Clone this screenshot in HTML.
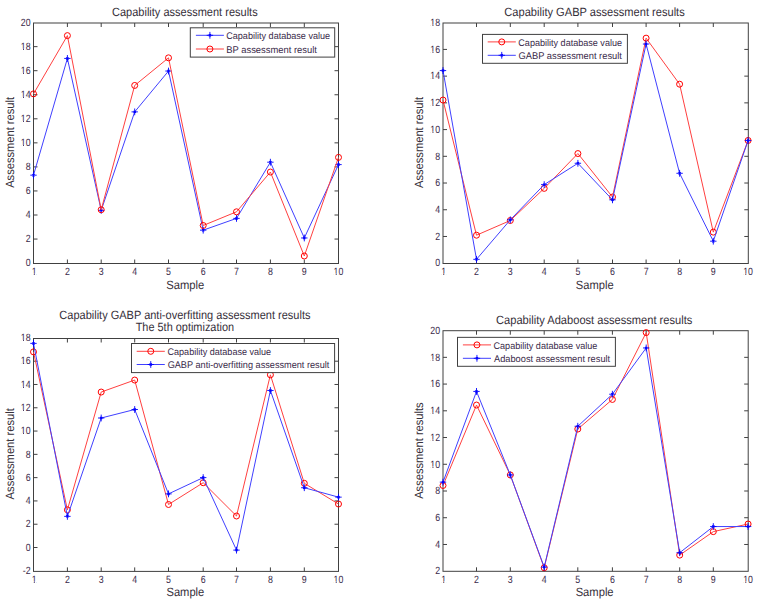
<!DOCTYPE html>
<html><head><meta charset="utf-8"><style>
html,body{margin:0;padding:0;background:#fff;}
svg{display:block;}
text{font-family:"Liberation Sans", sans-serif;}
.tk{font-size:10.5px;fill:#3a2a4a;}
.ti{font-size:12px;fill:#36303a;}
.lb{font-size:12px;fill:#36303a;}
.lg{font-size:9.7px;fill:#3a2a4a;}
</style></head><body>
<svg width="758" height="601" viewBox="0 0 758 601" text-rendering="geometricPrecision">
<rect width="758" height="601" fill="#fff"/>
<g>
<rect x="33.5" y="23.0" width="305.00" height="240.50" fill="#fff" stroke="#404040" stroke-width="1"/>
<path d="M67.40 263.5v-4M67.40 23.0v4M101.20 263.5v-4M101.20 23.0v4M134.70 263.5v-4M134.70 23.0v4M168.50 263.5v-4M168.50 23.0v4M203.20 263.5v-4M203.20 23.0v4M236.50 263.5v-4M236.50 23.0v4M270.40 263.5v-4M270.40 23.0v4M304.30 263.5v-4M304.30 23.0v4M33.5 239.05h4M338.5 239.05h-4M33.5 215.00h4M338.5 215.00h-4M33.5 190.95h4M338.5 190.95h-4M33.5 166.90h4M338.5 166.90h-4M33.5 142.85h4M338.5 142.85h-4M33.5 118.80h4M338.5 118.80h-4M33.5 94.75h4M338.5 94.75h-4M33.5 70.70h4M338.5 70.70h-4M33.5 46.65h4M338.5 46.65h-4" stroke="#404040" stroke-width="1" fill="none"/>
<polyline points="33.50,175.17 67.40,58.43 101.20,210.36 134.70,111.87 168.50,71.04 203.20,230.17 236.50,218.40 270.40,162.20 304.30,237.98 338.50,164.60" fill="none" stroke="#4040ff" stroke-width="1.0"/>
<path d="M30.30 175.17H36.70M33.50 171.77V178.57" stroke="#0000ff" stroke-width="0.9" fill="none"/><path d="M32.40 174.07L34.60 176.27M32.40 176.27L34.60 174.07" stroke="#0000ff" stroke-width="1.1" fill="none"/>
<path d="M64.20 58.43H70.60M67.40 55.03V61.83" stroke="#0000ff" stroke-width="0.9" fill="none"/><path d="M66.30 57.33L68.50 59.53M66.30 59.53L68.50 57.33" stroke="#0000ff" stroke-width="1.1" fill="none"/>
<path d="M98.00 210.36H104.40M101.20 206.96V213.76" stroke="#0000ff" stroke-width="0.9" fill="none"/><path d="M100.10 209.26L102.30 211.46M100.10 211.46L102.30 209.26" stroke="#0000ff" stroke-width="1.1" fill="none"/>
<path d="M131.50 111.87H137.90M134.70 108.47V115.27" stroke="#0000ff" stroke-width="0.9" fill="none"/><path d="M133.60 110.77L135.80 112.97M133.60 112.97L135.80 110.77" stroke="#0000ff" stroke-width="1.1" fill="none"/>
<path d="M165.30 71.04H171.70M168.50 67.64V74.44" stroke="#0000ff" stroke-width="0.9" fill="none"/><path d="M167.40 69.94L169.60 72.14M167.40 72.14L169.60 69.94" stroke="#0000ff" stroke-width="1.1" fill="none"/>
<path d="M200.00 230.17H206.40M203.20 226.77V233.57" stroke="#0000ff" stroke-width="0.9" fill="none"/><path d="M202.10 229.07L204.30 231.27M202.10 231.27L204.30 229.07" stroke="#0000ff" stroke-width="1.1" fill="none"/>
<path d="M233.30 218.40H239.70M236.50 215.00V221.80" stroke="#0000ff" stroke-width="0.9" fill="none"/><path d="M235.40 217.30L237.60 219.50M235.40 219.50L237.60 217.30" stroke="#0000ff" stroke-width="1.1" fill="none"/>
<path d="M267.20 162.20H273.60M270.40 158.80V165.60" stroke="#0000ff" stroke-width="0.9" fill="none"/><path d="M269.30 161.10L271.50 163.30M269.30 163.30L271.50 161.10" stroke="#0000ff" stroke-width="1.1" fill="none"/>
<path d="M301.10 237.98H307.50M304.30 234.58V241.38" stroke="#0000ff" stroke-width="0.9" fill="none"/><path d="M303.20 236.88L305.40 239.08M303.20 239.08L305.40 236.88" stroke="#0000ff" stroke-width="1.1" fill="none"/>
<path d="M335.30 164.60H341.70M338.50 161.20V168.00" stroke="#0000ff" stroke-width="0.9" fill="none"/><path d="M337.40 163.50L339.60 165.70M337.40 165.70L339.60 163.50" stroke="#0000ff" stroke-width="1.1" fill="none"/>
<polyline points="33.50,93.86 67.40,35.61 101.20,209.76 134.70,85.45 168.50,57.83 203.20,225.49 236.50,211.80 270.40,172.04 304.30,255.99 338.50,157.39" fill="none" stroke="#ff4040" stroke-width="1.0"/>
<circle cx="33.50" cy="93.86" r="3.0" fill="none" stroke="#ff0000" stroke-width="1"/>
<circle cx="67.40" cy="35.61" r="3.0" fill="none" stroke="#ff0000" stroke-width="1"/>
<circle cx="101.20" cy="209.76" r="3.0" fill="none" stroke="#ff0000" stroke-width="1"/>
<circle cx="134.70" cy="85.45" r="3.0" fill="none" stroke="#ff0000" stroke-width="1"/>
<circle cx="168.50" cy="57.83" r="3.0" fill="none" stroke="#ff0000" stroke-width="1"/>
<circle cx="203.20" cy="225.49" r="3.0" fill="none" stroke="#ff0000" stroke-width="1"/>
<circle cx="236.50" cy="211.80" r="3.0" fill="none" stroke="#ff0000" stroke-width="1"/>
<circle cx="270.40" cy="172.04" r="3.0" fill="none" stroke="#ff0000" stroke-width="1"/>
<circle cx="304.30" cy="255.99" r="3.0" fill="none" stroke="#ff0000" stroke-width="1"/>
<circle cx="338.50" cy="157.39" r="3.0" fill="none" stroke="#ff0000" stroke-width="1"/>
<g transform="translate(34.10,274.80) scale(0.838,1)"><text text-anchor="middle" class="tk">1</text><rect x="-2.63" y="-1.3" width="2.25" height="2.2" fill="#fff"/><rect x="0.75" y="-1.3" width="2.17" height="2.2" fill="#fff"/></g>
<g transform="translate(67.40,274.80) scale(0.838,1)"><text text-anchor="middle" class="tk">2</text></g>
<g transform="translate(101.20,274.80) scale(0.838,1)"><text text-anchor="middle" class="tk">3</text></g>
<g transform="translate(134.70,274.80) scale(0.838,1)"><text text-anchor="middle" class="tk">4</text></g>
<g transform="translate(168.50,274.80) scale(0.838,1)"><text text-anchor="middle" class="tk">5</text></g>
<g transform="translate(203.20,274.80) scale(0.838,1)"><text text-anchor="middle" class="tk">6</text></g>
<g transform="translate(236.50,274.80) scale(0.838,1)"><text text-anchor="middle" class="tk">7</text></g>
<g transform="translate(270.40,274.80) scale(0.838,1)"><text text-anchor="middle" class="tk">8</text></g>
<g transform="translate(304.30,274.80) scale(0.838,1)"><text text-anchor="middle" class="tk">9</text></g>
<g transform="translate(338.50,274.80) scale(0.838,1)"><text text-anchor="middle" class="tk">10</text><rect x="-5.55" y="-1.3" width="2.25" height="2.2" fill="#fff"/><rect x="-2.17" y="-1.3" width="2.17" height="2.2" fill="#fff"/></g>
<g transform="translate(30.65,266.35) scale(0.838,1)"><text text-anchor="end" class="tk">0</text></g>
<g transform="translate(30.65,242.30) scale(0.838,1)"><text text-anchor="end" class="tk">2</text></g>
<g transform="translate(30.65,218.25) scale(0.838,1)"><text text-anchor="end" class="tk">4</text></g>
<g transform="translate(30.65,194.20) scale(0.838,1)"><text text-anchor="end" class="tk">6</text></g>
<g transform="translate(30.65,170.15) scale(0.838,1)"><text text-anchor="end" class="tk">8</text></g>
<g transform="translate(30.65,146.10) scale(0.838,1)"><text text-anchor="end" class="tk">10</text><rect x="-11.39" y="-1.3" width="2.25" height="2.2" fill="#fff"/><rect x="-8.01" y="-1.3" width="2.17" height="2.2" fill="#fff"/></g>
<g transform="translate(30.65,122.05) scale(0.838,1)"><text text-anchor="end" class="tk">12</text><rect x="-11.39" y="-1.3" width="2.25" height="2.2" fill="#fff"/><rect x="-8.01" y="-1.3" width="2.17" height="2.2" fill="#fff"/></g>
<g transform="translate(30.65,98.00) scale(0.838,1)"><text text-anchor="end" class="tk">14</text><rect x="-11.39" y="-1.3" width="2.25" height="2.2" fill="#fff"/><rect x="-8.01" y="-1.3" width="2.17" height="2.2" fill="#fff"/></g>
<g transform="translate(30.65,73.95) scale(0.838,1)"><text text-anchor="end" class="tk">16</text><rect x="-11.39" y="-1.3" width="2.25" height="2.2" fill="#fff"/><rect x="-8.01" y="-1.3" width="2.17" height="2.2" fill="#fff"/></g>
<g transform="translate(30.65,49.90) scale(0.838,1)"><text text-anchor="end" class="tk">18</text><rect x="-11.39" y="-1.3" width="2.25" height="2.2" fill="#fff"/><rect x="-8.01" y="-1.3" width="2.17" height="2.2" fill="#fff"/></g>
<g transform="translate(30.65,25.85) scale(0.838,1)"><text text-anchor="end" class="tk">20</text></g>
<text transform="translate(112.04,15.80) scale(0.9173,1)" class="ti">Capability assessment results</text>
<text transform="translate(166.23,288.70) scale(0.9358,1)" class="lb">Sample</text>
<text transform="translate(13.80,187.80) rotate(-90) scale(0.9265,1)" class="lb">Assessment result</text>
<rect x="190.3" y="27.8" width="144.40" height="29.30" fill="#fff" stroke="#404040" stroke-width="1"/>
<line x1="195.9" y1="35.3" x2="223.9" y2="35.3" stroke="#4040ff" stroke-width="1.0"/>
<path d="M206.70 35.30H213.10M209.90 31.90V38.70" stroke="#0000ff" stroke-width="0.9" fill="none"/><path d="M208.80 34.20L211.00 36.40M208.80 36.40L211.00 34.20" stroke="#0000ff" stroke-width="1.1" fill="none"/>
<text transform="translate(226.23,39.20) scale(0.9364,1)" class="lg">Capability database value</text>
<line x1="195.9" y1="49.0" x2="223.9" y2="49.0" stroke="#ff4040" stroke-width="1.0"/>
<circle cx="209.90" cy="49.00" r="3.0" fill="none" stroke="#ff0000" stroke-width="1"/>
<text transform="translate(226.27,52.90) scale(0.9693,1)" class="lg">BP assessment result</text>
<rect x="443.0" y="23.0" width="305.30" height="240.50" fill="#fff" stroke="#404040" stroke-width="1"/>
<path d="M476.50 263.5v-4M476.50 23.0v4M510.30 263.5v-4M510.30 23.0v4M544.20 263.5v-4M544.20 23.0v4M577.90 263.5v-4M577.90 23.0v4M612.50 263.5v-4M612.50 23.0v4M646.10 263.5v-4M646.10 23.0v4M679.60 263.5v-4M679.60 23.0v4M713.30 263.5v-4M713.30 23.0v4M443.0 236.48h4M748.3 236.48h-4M443.0 209.76h4M748.3 209.76h-4M443.0 183.03h4M748.3 183.03h-4M443.0 156.31h4M748.3 156.31h-4M443.0 129.59h4M748.3 129.59h-4M443.0 102.87h4M748.3 102.87h-4M443.0 76.14h4M748.3 76.14h-4M443.0 49.42h4M748.3 49.42h-4" stroke="#404040" stroke-width="1" fill="none"/>
<polyline points="443.00,100.05 476.50,235.19 510.30,220.51 544.20,188.36 577.90,153.55 612.50,197.03 646.10,38.15 679.60,84.18 713.30,232.12 748.10,140.47" fill="none" stroke="#ff4040" stroke-width="1.0"/>
<circle cx="443.00" cy="100.05" r="3.0" fill="none" stroke="#ff0000" stroke-width="1"/>
<circle cx="476.50" cy="235.19" r="3.0" fill="none" stroke="#ff0000" stroke-width="1"/>
<circle cx="510.30" cy="220.51" r="3.0" fill="none" stroke="#ff0000" stroke-width="1"/>
<circle cx="544.20" cy="188.36" r="3.0" fill="none" stroke="#ff0000" stroke-width="1"/>
<circle cx="577.90" cy="153.55" r="3.0" fill="none" stroke="#ff0000" stroke-width="1"/>
<circle cx="612.50" cy="197.03" r="3.0" fill="none" stroke="#ff0000" stroke-width="1"/>
<circle cx="646.10" cy="38.15" r="3.0" fill="none" stroke="#ff0000" stroke-width="1"/>
<circle cx="679.60" cy="84.18" r="3.0" fill="none" stroke="#ff0000" stroke-width="1"/>
<circle cx="713.30" cy="232.12" r="3.0" fill="none" stroke="#ff0000" stroke-width="1"/>
<circle cx="748.10" cy="140.47" r="3.0" fill="none" stroke="#ff0000" stroke-width="1"/>
<polyline points="443.00,70.57 476.50,259.33 510.30,219.84 544.20,184.63 577.90,163.28 612.50,199.83 646.10,44.02 679.60,173.29 713.30,241.19 748.10,140.47" fill="none" stroke="#4040ff" stroke-width="1.0"/>
<path d="M439.80 70.57H446.20M443.00 67.17V73.97" stroke="#0000ff" stroke-width="0.9" fill="none"/><path d="M441.90 69.47L444.10 71.67M441.90 71.67L444.10 69.47" stroke="#0000ff" stroke-width="1.1" fill="none"/>
<path d="M473.30 259.33H479.70M476.50 255.93V262.73" stroke="#0000ff" stroke-width="0.9" fill="none"/><path d="M475.40 258.23L477.60 260.43M475.40 260.43L477.60 258.23" stroke="#0000ff" stroke-width="1.1" fill="none"/>
<path d="M507.10 219.84H513.50M510.30 216.44V223.25" stroke="#0000ff" stroke-width="0.9" fill="none"/><path d="M509.20 218.75L511.40 220.94M509.20 220.94L511.40 218.75" stroke="#0000ff" stroke-width="1.1" fill="none"/>
<path d="M541.00 184.63H547.40M544.20 181.23V188.03" stroke="#0000ff" stroke-width="0.9" fill="none"/><path d="M543.10 183.53L545.30 185.73M543.10 185.73L545.30 183.53" stroke="#0000ff" stroke-width="1.1" fill="none"/>
<path d="M574.70 163.28H581.10M577.90 159.88V166.68" stroke="#0000ff" stroke-width="0.9" fill="none"/><path d="M576.80 162.18L579.00 164.38M576.80 164.38L579.00 162.18" stroke="#0000ff" stroke-width="1.1" fill="none"/>
<path d="M609.30 199.83H615.70M612.50 196.43V203.23" stroke="#0000ff" stroke-width="0.9" fill="none"/><path d="M611.40 198.73L613.60 200.93M611.40 200.93L613.60 198.73" stroke="#0000ff" stroke-width="1.1" fill="none"/>
<path d="M642.90 44.02H649.30M646.10 40.62V47.42" stroke="#0000ff" stroke-width="0.9" fill="none"/><path d="M645.00 42.92L647.20 45.12M645.00 45.12L647.20 42.92" stroke="#0000ff" stroke-width="1.1" fill="none"/>
<path d="M676.40 173.29H682.80M679.60 169.89V176.69" stroke="#0000ff" stroke-width="0.9" fill="none"/><path d="M678.50 172.19L680.70 174.39M678.50 174.39L680.70 172.19" stroke="#0000ff" stroke-width="1.1" fill="none"/>
<path d="M710.10 241.19H716.50M713.30 237.79V244.59" stroke="#0000ff" stroke-width="0.9" fill="none"/><path d="M712.20 240.09L714.40 242.29M712.20 242.29L714.40 240.09" stroke="#0000ff" stroke-width="1.1" fill="none"/>
<path d="M744.90 140.47H751.30M748.10 137.07V143.87" stroke="#0000ff" stroke-width="0.9" fill="none"/><path d="M747.00 139.37L749.20 141.57M747.00 141.57L749.20 139.37" stroke="#0000ff" stroke-width="1.1" fill="none"/>
<g transform="translate(443.60,274.80) scale(0.838,1)"><text text-anchor="middle" class="tk">1</text><rect x="-2.63" y="-1.3" width="2.25" height="2.2" fill="#fff"/><rect x="0.75" y="-1.3" width="2.17" height="2.2" fill="#fff"/></g>
<g transform="translate(476.50,274.80) scale(0.838,1)"><text text-anchor="middle" class="tk">2</text></g>
<g transform="translate(510.30,274.80) scale(0.838,1)"><text text-anchor="middle" class="tk">3</text></g>
<g transform="translate(544.20,274.80) scale(0.838,1)"><text text-anchor="middle" class="tk">4</text></g>
<g transform="translate(577.90,274.80) scale(0.838,1)"><text text-anchor="middle" class="tk">5</text></g>
<g transform="translate(612.50,274.80) scale(0.838,1)"><text text-anchor="middle" class="tk">6</text></g>
<g transform="translate(646.10,274.80) scale(0.838,1)"><text text-anchor="middle" class="tk">7</text></g>
<g transform="translate(679.60,274.80) scale(0.838,1)"><text text-anchor="middle" class="tk">8</text></g>
<g transform="translate(713.30,274.80) scale(0.838,1)"><text text-anchor="middle" class="tk">9</text></g>
<g transform="translate(748.10,274.80) scale(0.838,1)"><text text-anchor="middle" class="tk">10</text><rect x="-5.55" y="-1.3" width="2.25" height="2.2" fill="#fff"/><rect x="-2.17" y="-1.3" width="2.17" height="2.2" fill="#fff"/></g>
<g transform="translate(440.15,266.45) scale(0.838,1)"><text text-anchor="end" class="tk">0</text></g>
<g transform="translate(440.15,239.73) scale(0.838,1)"><text text-anchor="end" class="tk">2</text></g>
<g transform="translate(440.15,213.01) scale(0.838,1)"><text text-anchor="end" class="tk">4</text></g>
<g transform="translate(440.15,186.28) scale(0.838,1)"><text text-anchor="end" class="tk">6</text></g>
<g transform="translate(440.15,159.56) scale(0.838,1)"><text text-anchor="end" class="tk">8</text></g>
<g transform="translate(440.15,132.84) scale(0.838,1)"><text text-anchor="end" class="tk">10</text><rect x="-11.39" y="-1.3" width="2.25" height="2.2" fill="#fff"/><rect x="-8.01" y="-1.3" width="2.17" height="2.2" fill="#fff"/></g>
<g transform="translate(440.15,106.12) scale(0.838,1)"><text text-anchor="end" class="tk">12</text><rect x="-11.39" y="-1.3" width="2.25" height="2.2" fill="#fff"/><rect x="-8.01" y="-1.3" width="2.17" height="2.2" fill="#fff"/></g>
<g transform="translate(440.15,79.39) scale(0.838,1)"><text text-anchor="end" class="tk">14</text><rect x="-11.39" y="-1.3" width="2.25" height="2.2" fill="#fff"/><rect x="-8.01" y="-1.3" width="2.17" height="2.2" fill="#fff"/></g>
<g transform="translate(440.15,52.67) scale(0.838,1)"><text text-anchor="end" class="tk">16</text><rect x="-11.39" y="-1.3" width="2.25" height="2.2" fill="#fff"/><rect x="-8.01" y="-1.3" width="2.17" height="2.2" fill="#fff"/></g>
<g transform="translate(440.15,25.95) scale(0.838,1)"><text text-anchor="end" class="tk">18</text><rect x="-11.39" y="-1.3" width="2.25" height="2.2" fill="#fff"/><rect x="-8.01" y="-1.3" width="2.17" height="2.2" fill="#fff"/></g>
<text transform="translate(504.34,15.80) scale(0.9241,1)" class="ti">Capability GABP assessment results</text>
<text transform="translate(575.84,288.70) scale(0.9283,1)" class="lb">Sample</text>
<text transform="translate(422.80,188.00) rotate(-90) scale(0.9286,1)" class="lb">Assessment result</text>
<rect x="482.5" y="34.4" width="144.90" height="28.90" fill="#fff" stroke="#404040" stroke-width="1"/>
<line x1="487.7" y1="41.9" x2="515.8" y2="41.9" stroke="#ff4040" stroke-width="1.0"/>
<circle cx="501.75" cy="41.90" r="3.0" fill="none" stroke="#ff0000" stroke-width="1"/>
<text transform="translate(518.33,45.80) scale(0.9345,1)" class="lg">Capability database value</text>
<line x1="487.7" y1="55.3" x2="515.8" y2="55.3" stroke="#4040ff" stroke-width="1.0"/>
<path d="M498.55 55.30H504.95M501.75 51.90V58.70" stroke="#0000ff" stroke-width="0.9" fill="none"/><path d="M500.65 54.20L502.85 56.40M500.65 56.40L502.85 54.20" stroke="#0000ff" stroke-width="1.1" fill="none"/>
<text transform="translate(518.52,59.20) scale(0.9617,1)" class="lg">GABP assessment result</text>
<rect x="33.5" y="338.5" width="305.00" height="232.90" fill="#fff" stroke="#404040" stroke-width="1"/>
<path d="M67.40 571.4v-4M67.40 338.5v4M101.20 571.4v-4M101.20 338.5v4M134.70 571.4v-4M134.70 338.5v4M168.50 571.4v-4M168.50 338.5v4M203.20 571.4v-4M203.20 338.5v4M236.50 571.4v-4M236.50 338.5v4M270.40 571.4v-4M270.40 338.5v4M304.30 571.4v-4M304.30 338.5v4M33.5 547.51h4M338.5 547.51h-4M33.5 524.22h4M338.5 524.22h-4M33.5 500.93h4M338.5 500.93h-4M33.5 477.64h4M338.5 477.64h-4M33.5 454.35h4M338.5 454.35h-4M33.5 431.06h4M338.5 431.06h-4M33.5 407.77h4M338.5 407.77h-4M33.5 384.48h4M338.5 384.48h-4M33.5 361.19h4M338.5 361.19h-4" stroke="#404040" stroke-width="1" fill="none"/>
<polyline points="33.50,351.89 67.40,509.84 101.20,392.04 134.70,380.05 168.50,504.49 203.20,482.72 236.50,516.01 270.40,374.82 304.30,483.30 338.50,504.02" fill="none" stroke="#ff4040" stroke-width="1.0"/>
<circle cx="33.50" cy="351.89" r="3.0" fill="none" stroke="#ff0000" stroke-width="1"/>
<circle cx="67.40" cy="509.84" r="3.0" fill="none" stroke="#ff0000" stroke-width="1"/>
<circle cx="101.20" cy="392.04" r="3.0" fill="none" stroke="#ff0000" stroke-width="1"/>
<circle cx="134.70" cy="380.05" r="3.0" fill="none" stroke="#ff0000" stroke-width="1"/>
<circle cx="168.50" cy="504.49" r="3.0" fill="none" stroke="#ff0000" stroke-width="1"/>
<circle cx="203.20" cy="482.72" r="3.0" fill="none" stroke="#ff0000" stroke-width="1"/>
<circle cx="236.50" cy="516.01" r="3.0" fill="none" stroke="#ff0000" stroke-width="1"/>
<circle cx="270.40" cy="374.82" r="3.0" fill="none" stroke="#ff0000" stroke-width="1"/>
<circle cx="304.30" cy="483.30" r="3.0" fill="none" stroke="#ff0000" stroke-width="1"/>
<circle cx="338.50" cy="504.02" r="3.0" fill="none" stroke="#ff0000" stroke-width="1"/>
<polyline points="33.50,343.39 67.40,516.36 101.20,418.00 134.70,409.50 168.50,493.89 203.20,477.60 236.50,550.12 270.40,390.53 304.30,487.72 338.50,497.15" fill="none" stroke="#4040ff" stroke-width="1.0"/>
<path d="M30.30 343.39H36.70M33.50 339.99V346.79" stroke="#0000ff" stroke-width="0.9" fill="none"/><path d="M32.40 342.29L34.60 344.49M32.40 344.49L34.60 342.29" stroke="#0000ff" stroke-width="1.1" fill="none"/>
<path d="M64.20 516.36H70.60M67.40 512.96V519.76" stroke="#0000ff" stroke-width="0.9" fill="none"/><path d="M66.30 515.26L68.50 517.46M66.30 517.46L68.50 515.26" stroke="#0000ff" stroke-width="1.1" fill="none"/>
<path d="M98.00 418.00H104.40M101.20 414.60V421.40" stroke="#0000ff" stroke-width="0.9" fill="none"/><path d="M100.10 416.90L102.30 419.10M100.10 419.10L102.30 416.90" stroke="#0000ff" stroke-width="1.1" fill="none"/>
<path d="M131.50 409.50H137.90M134.70 406.10V412.90" stroke="#0000ff" stroke-width="0.9" fill="none"/><path d="M133.60 408.40L135.80 410.60M133.60 410.60L135.80 408.40" stroke="#0000ff" stroke-width="1.1" fill="none"/>
<path d="M165.30 493.89H171.70M168.50 490.49V497.29" stroke="#0000ff" stroke-width="0.9" fill="none"/><path d="M167.40 492.79L169.60 494.99M167.40 494.99L169.60 492.79" stroke="#0000ff" stroke-width="1.1" fill="none"/>
<path d="M200.00 477.60H206.40M203.20 474.20V481.00" stroke="#0000ff" stroke-width="0.9" fill="none"/><path d="M202.10 476.50L204.30 478.70M202.10 478.70L204.30 476.50" stroke="#0000ff" stroke-width="1.1" fill="none"/>
<path d="M233.30 550.12H239.70M236.50 546.72V553.52" stroke="#0000ff" stroke-width="0.9" fill="none"/><path d="M235.40 549.02L237.60 551.22M235.40 551.22L237.60 549.02" stroke="#0000ff" stroke-width="1.1" fill="none"/>
<path d="M267.20 390.53H273.60M270.40 387.13V393.93" stroke="#0000ff" stroke-width="0.9" fill="none"/><path d="M269.30 389.43L271.50 391.63M269.30 391.63L271.50 389.43" stroke="#0000ff" stroke-width="1.1" fill="none"/>
<path d="M301.10 487.72H307.50M304.30 484.32V491.12" stroke="#0000ff" stroke-width="0.9" fill="none"/><path d="M303.20 486.62L305.40 488.82M303.20 488.82L305.40 486.62" stroke="#0000ff" stroke-width="1.1" fill="none"/>
<path d="M335.30 497.15H341.70M338.50 493.75V500.55" stroke="#0000ff" stroke-width="0.9" fill="none"/><path d="M337.40 496.05L339.60 498.25M337.40 498.25L339.60 496.05" stroke="#0000ff" stroke-width="1.1" fill="none"/>
<g transform="translate(34.10,582.70) scale(0.838,1)"><text text-anchor="middle" class="tk">1</text><rect x="-2.63" y="-1.3" width="2.25" height="2.2" fill="#fff"/><rect x="0.75" y="-1.3" width="2.17" height="2.2" fill="#fff"/></g>
<g transform="translate(67.40,582.70) scale(0.838,1)"><text text-anchor="middle" class="tk">2</text></g>
<g transform="translate(101.20,582.70) scale(0.838,1)"><text text-anchor="middle" class="tk">3</text></g>
<g transform="translate(134.70,582.70) scale(0.838,1)"><text text-anchor="middle" class="tk">4</text></g>
<g transform="translate(168.50,582.70) scale(0.838,1)"><text text-anchor="middle" class="tk">5</text></g>
<g transform="translate(203.20,582.70) scale(0.838,1)"><text text-anchor="middle" class="tk">6</text></g>
<g transform="translate(236.50,582.70) scale(0.838,1)"><text text-anchor="middle" class="tk">7</text></g>
<g transform="translate(270.40,582.70) scale(0.838,1)"><text text-anchor="middle" class="tk">8</text></g>
<g transform="translate(304.30,582.70) scale(0.838,1)"><text text-anchor="middle" class="tk">9</text></g>
<g transform="translate(338.50,582.70) scale(0.838,1)"><text text-anchor="middle" class="tk">10</text><rect x="-5.55" y="-1.3" width="2.25" height="2.2" fill="#fff"/><rect x="-2.17" y="-1.3" width="2.17" height="2.2" fill="#fff"/></g>
<g transform="translate(30.65,574.05) scale(0.838,1)"><text text-anchor="end" class="tk">-2</text></g>
<g transform="translate(30.65,550.76) scale(0.838,1)"><text text-anchor="end" class="tk">0</text></g>
<g transform="translate(30.65,527.47) scale(0.838,1)"><text text-anchor="end" class="tk">2</text></g>
<g transform="translate(30.65,504.18) scale(0.838,1)"><text text-anchor="end" class="tk">4</text></g>
<g transform="translate(30.65,480.89) scale(0.838,1)"><text text-anchor="end" class="tk">6</text></g>
<g transform="translate(30.65,457.60) scale(0.838,1)"><text text-anchor="end" class="tk">8</text></g>
<g transform="translate(30.65,434.31) scale(0.838,1)"><text text-anchor="end" class="tk">10</text><rect x="-11.39" y="-1.3" width="2.25" height="2.2" fill="#fff"/><rect x="-8.01" y="-1.3" width="2.17" height="2.2" fill="#fff"/></g>
<g transform="translate(30.65,411.02) scale(0.838,1)"><text text-anchor="end" class="tk">12</text><rect x="-11.39" y="-1.3" width="2.25" height="2.2" fill="#fff"/><rect x="-8.01" y="-1.3" width="2.17" height="2.2" fill="#fff"/></g>
<g transform="translate(30.65,387.73) scale(0.838,1)"><text text-anchor="end" class="tk">14</text><rect x="-11.39" y="-1.3" width="2.25" height="2.2" fill="#fff"/><rect x="-8.01" y="-1.3" width="2.17" height="2.2" fill="#fff"/></g>
<g transform="translate(30.65,364.44) scale(0.838,1)"><text text-anchor="end" class="tk">16</text><rect x="-11.39" y="-1.3" width="2.25" height="2.2" fill="#fff"/><rect x="-8.01" y="-1.3" width="2.17" height="2.2" fill="#fff"/></g>
<g transform="translate(30.65,341.15) scale(0.838,1)"><text text-anchor="end" class="tk">18</text><rect x="-11.39" y="-1.3" width="2.25" height="2.2" fill="#fff"/><rect x="-8.01" y="-1.3" width="2.17" height="2.2" fill="#fff"/></g>
<text transform="translate(59.34,318.80) scale(0.9168,1)" class="ti">Capability GABP anti-overfitting assessment results</text>
<text transform="translate(135.67,330.80) scale(0.9103,1)" class="ti">The 5th optimization</text>
<text transform="translate(166.43,596.30) scale(0.9308,1)" class="lb">Sample</text>
<text transform="translate(13.80,499.40) rotate(-90) scale(0.9306,1)" class="lb">Assessment result</text>
<rect x="131.5" y="343.5" width="203.10" height="29.10" fill="#fff" stroke="#404040" stroke-width="1"/>
<line x1="136.7" y1="351.3" x2="164.8" y2="351.3" stroke="#ff4040" stroke-width="1.0"/>
<circle cx="150.75" cy="351.30" r="3.0" fill="none" stroke="#ff0000" stroke-width="1"/>
<text transform="translate(167.53,355.20) scale(0.9336,1)" class="lg">Capability database value</text>
<line x1="136.7" y1="364.5" x2="164.8" y2="364.5" stroke="#4040ff" stroke-width="1.0"/>
<path d="M147.55 364.50H153.95M150.75 361.10V367.90" stroke="#0000ff" stroke-width="0.9" fill="none"/><path d="M149.65 363.40L151.85 365.60M149.65 365.60L151.85 363.40" stroke="#0000ff" stroke-width="1.1" fill="none"/>
<text transform="translate(167.63,368.40) scale(0.9455,1)" class="lg">GABP anti-overfitting assessment result</text>
<rect x="443.0" y="330.7" width="305.20" height="240.60" fill="#fff" stroke="#404040" stroke-width="1"/>
<path d="M476.50 571.3v-4M476.50 330.7v4M510.30 571.3v-4M510.30 330.7v4M544.20 571.3v-4M544.20 330.7v4M577.80 571.3v-4M577.80 330.7v4M612.40 571.3v-4M612.40 330.7v4M646.20 571.3v-4M646.20 330.7v4M679.70 571.3v-4M679.70 330.7v4M713.30 571.3v-4M713.30 330.7v4M443.0 544.47h4M748.2 544.47h-4M443.0 517.73h4M748.2 517.73h-4M443.0 491.00h4M748.2 491.00h-4M443.0 464.27h4M748.2 464.27h-4M443.0 437.53h4M748.2 437.53h-4M443.0 410.80h4M748.2 410.80h-4M443.0 384.07h4M748.2 384.07h-4M443.0 357.33h4M748.2 357.33h-4" stroke="#404040" stroke-width="1" fill="none"/>
<polyline points="443.00,485.48 476.50,405.04 510.30,474.94 544.20,567.78 577.80,429.05 612.40,399.43 646.20,332.60 679.70,555.11 713.30,531.63 748.10,524.03" fill="none" stroke="#ff4040" stroke-width="1.0"/>
<circle cx="443.00" cy="485.48" r="3.0" fill="none" stroke="#ff0000" stroke-width="1"/>
<circle cx="476.50" cy="405.04" r="3.0" fill="none" stroke="#ff0000" stroke-width="1"/>
<circle cx="510.30" cy="474.94" r="3.0" fill="none" stroke="#ff0000" stroke-width="1"/>
<circle cx="544.20" cy="567.78" r="3.0" fill="none" stroke="#ff0000" stroke-width="1"/>
<circle cx="577.80" cy="429.05" r="3.0" fill="none" stroke="#ff0000" stroke-width="1"/>
<circle cx="612.40" cy="399.43" r="3.0" fill="none" stroke="#ff0000" stroke-width="1"/>
<circle cx="646.20" cy="332.60" r="3.0" fill="none" stroke="#ff0000" stroke-width="1"/>
<circle cx="679.70" cy="555.11" r="3.0" fill="none" stroke="#ff0000" stroke-width="1"/>
<circle cx="713.30" cy="531.63" r="3.0" fill="none" stroke="#ff0000" stroke-width="1"/>
<circle cx="748.10" cy="524.03" r="3.0" fill="none" stroke="#ff0000" stroke-width="1"/>
<polyline points="443.00,482.14 476.50,391.43 510.30,474.94 544.20,567.12 577.80,426.25 612.40,394.23 646.20,347.94 679.70,552.71 713.30,526.56 748.10,526.56" fill="none" stroke="#4040ff" stroke-width="1.0"/>
<path d="M439.80 482.14H446.20M443.00 478.74V485.54" stroke="#0000ff" stroke-width="0.9" fill="none"/><path d="M441.90 481.04L444.10 483.24M441.90 483.24L444.10 481.04" stroke="#0000ff" stroke-width="1.1" fill="none"/>
<path d="M473.30 391.43H479.70M476.50 388.03V394.83" stroke="#0000ff" stroke-width="0.9" fill="none"/><path d="M475.40 390.33L477.60 392.53M475.40 392.53L477.60 390.33" stroke="#0000ff" stroke-width="1.1" fill="none"/>
<path d="M507.10 474.94H513.50M510.30 471.54V478.34" stroke="#0000ff" stroke-width="0.9" fill="none"/><path d="M509.20 473.84L511.40 476.04M509.20 476.04L511.40 473.84" stroke="#0000ff" stroke-width="1.1" fill="none"/>
<path d="M541.00 567.12H547.40M544.20 563.72V570.52" stroke="#0000ff" stroke-width="0.9" fill="none"/><path d="M543.10 566.02L545.30 568.22M543.10 568.22L545.30 566.02" stroke="#0000ff" stroke-width="1.1" fill="none"/>
<path d="M574.60 426.25H581.00M577.80 422.85V429.65" stroke="#0000ff" stroke-width="0.9" fill="none"/><path d="M576.70 425.15L578.90 427.35M576.70 427.35L578.90 425.15" stroke="#0000ff" stroke-width="1.1" fill="none"/>
<path d="M609.20 394.23H615.60M612.40 390.83V397.63" stroke="#0000ff" stroke-width="0.9" fill="none"/><path d="M611.30 393.13L613.50 395.33M611.30 395.33L613.50 393.13" stroke="#0000ff" stroke-width="1.1" fill="none"/>
<path d="M643.00 347.94H649.40M646.20 344.54V351.34" stroke="#0000ff" stroke-width="0.9" fill="none"/><path d="M645.10 346.84L647.30 349.04M645.10 349.04L647.30 346.84" stroke="#0000ff" stroke-width="1.1" fill="none"/>
<path d="M676.50 552.71H682.90M679.70 549.31V556.11" stroke="#0000ff" stroke-width="0.9" fill="none"/><path d="M678.60 551.61L680.80 553.81M678.60 553.81L680.80 551.61" stroke="#0000ff" stroke-width="1.1" fill="none"/>
<path d="M710.10 526.56H716.50M713.30 523.16V529.96" stroke="#0000ff" stroke-width="0.9" fill="none"/><path d="M712.20 525.46L714.40 527.66M712.20 527.66L714.40 525.46" stroke="#0000ff" stroke-width="1.1" fill="none"/>
<path d="M744.90 526.56H751.30M748.10 523.16V529.96" stroke="#0000ff" stroke-width="0.9" fill="none"/><path d="M747.00 525.46L749.20 527.66M747.00 527.66L749.20 525.46" stroke="#0000ff" stroke-width="1.1" fill="none"/>
<g transform="translate(443.60,582.60) scale(0.838,1)"><text text-anchor="middle" class="tk">1</text><rect x="-2.63" y="-1.3" width="2.25" height="2.2" fill="#fff"/><rect x="0.75" y="-1.3" width="2.17" height="2.2" fill="#fff"/></g>
<g transform="translate(476.50,582.60) scale(0.838,1)"><text text-anchor="middle" class="tk">2</text></g>
<g transform="translate(510.30,582.60) scale(0.838,1)"><text text-anchor="middle" class="tk">3</text></g>
<g transform="translate(544.20,582.60) scale(0.838,1)"><text text-anchor="middle" class="tk">4</text></g>
<g transform="translate(577.80,582.60) scale(0.838,1)"><text text-anchor="middle" class="tk">5</text></g>
<g transform="translate(612.40,582.60) scale(0.838,1)"><text text-anchor="middle" class="tk">6</text></g>
<g transform="translate(646.20,582.60) scale(0.838,1)"><text text-anchor="middle" class="tk">7</text></g>
<g transform="translate(679.70,582.60) scale(0.838,1)"><text text-anchor="middle" class="tk">8</text></g>
<g transform="translate(713.30,582.60) scale(0.838,1)"><text text-anchor="middle" class="tk">9</text></g>
<g transform="translate(748.10,582.60) scale(0.838,1)"><text text-anchor="middle" class="tk">10</text><rect x="-5.55" y="-1.3" width="2.25" height="2.2" fill="#fff"/><rect x="-2.17" y="-1.3" width="2.17" height="2.2" fill="#fff"/></g>
<g transform="translate(440.15,574.45) scale(0.838,1)"><text text-anchor="end" class="tk">2</text></g>
<g transform="translate(440.15,547.72) scale(0.838,1)"><text text-anchor="end" class="tk">4</text></g>
<g transform="translate(440.15,520.98) scale(0.838,1)"><text text-anchor="end" class="tk">6</text></g>
<g transform="translate(440.15,494.25) scale(0.838,1)"><text text-anchor="end" class="tk">8</text></g>
<g transform="translate(440.15,467.52) scale(0.838,1)"><text text-anchor="end" class="tk">10</text><rect x="-11.39" y="-1.3" width="2.25" height="2.2" fill="#fff"/><rect x="-8.01" y="-1.3" width="2.17" height="2.2" fill="#fff"/></g>
<g transform="translate(440.15,440.78) scale(0.838,1)"><text text-anchor="end" class="tk">12</text><rect x="-11.39" y="-1.3" width="2.25" height="2.2" fill="#fff"/><rect x="-8.01" y="-1.3" width="2.17" height="2.2" fill="#fff"/></g>
<g transform="translate(440.15,414.05) scale(0.838,1)"><text text-anchor="end" class="tk">14</text><rect x="-11.39" y="-1.3" width="2.25" height="2.2" fill="#fff"/><rect x="-8.01" y="-1.3" width="2.17" height="2.2" fill="#fff"/></g>
<g transform="translate(440.15,387.32) scale(0.838,1)"><text text-anchor="end" class="tk">16</text><rect x="-11.39" y="-1.3" width="2.25" height="2.2" fill="#fff"/><rect x="-8.01" y="-1.3" width="2.17" height="2.2" fill="#fff"/></g>
<g transform="translate(440.15,360.58) scale(0.838,1)"><text text-anchor="end" class="tk">18</text><rect x="-11.39" y="-1.3" width="2.25" height="2.2" fill="#fff"/><rect x="-8.01" y="-1.3" width="2.17" height="2.2" fill="#fff"/></g>
<g transform="translate(440.15,333.85) scale(0.838,1)"><text text-anchor="end" class="tk">20</text></g>
<text transform="translate(496.04,323.80) scale(0.9254,1)" class="ti">Capability Adaboost assessment results</text>
<text transform="translate(575.63,596.30) scale(0.9333,1)" class="lb">Sample</text>
<text transform="translate(423.00,498.80) rotate(-90) scale(0.9272,1)" class="lb">Assessment results</text>
<rect x="457.5" y="337.35" width="157.90" height="28.95" fill="#fff" stroke="#404040" stroke-width="1"/>
<line x1="462.9" y1="344.9" x2="491.0" y2="344.9" stroke="#ff4040" stroke-width="1.0"/>
<circle cx="476.95" cy="344.90" r="3.0" fill="none" stroke="#ff0000" stroke-width="1"/>
<text transform="translate(493.53,348.80) scale(0.9355,1)" class="lg">Capability database value</text>
<line x1="462.9" y1="358.3" x2="491.0" y2="358.3" stroke="#4040ff" stroke-width="1.0"/>
<path d="M473.75 358.30H480.15M476.95 354.90V361.70" stroke="#0000ff" stroke-width="0.9" fill="none"/><path d="M475.85 357.20L478.05 359.40M475.85 359.40L478.05 357.20" stroke="#0000ff" stroke-width="1.1" fill="none"/>
<text transform="translate(494.00,362.20) scale(0.9544,1)" class="lg">Adaboost assessment result</text>
</g>
</svg>
</body></html>
